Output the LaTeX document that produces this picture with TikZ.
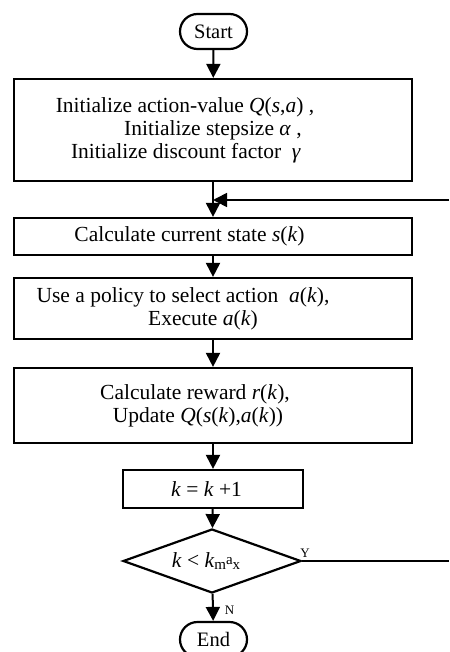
\documentclass[tikz,border=0pt]{standalone}
\usepackage{fontspec}
\setmainfont{Liberation Serif}
\usetikzlibrary{arrows.meta,shapes.geometric}
\newcommand{\iv}[1]{\textit{#1}}
\tikzset{
  box/.style={draw, line width=2.2pt, minimum width=398pt, inner sep=0pt,
    align=center, font=\fontsize{21.5}{23}\selectfont},
  term/.style={draw, line width=2.2pt, rounded corners=17.5pt,
    minimum width=67pt, minimum height=35pt, inner sep=0pt,
    font=\fontsize{20.5}{22}\selectfont},
  decision/.style={draw, diamond, aspect=2.8, line width=2.2pt,
    minimum width=178pt, minimum height=64pt, inner sep=0pt,
    font=\fontsize{21.5}{23}\selectfont},
  flow/.style={line width=2pt, -{Triangle[length=14pt,width=14pt]}},
  loopline/.style={line width=1.6pt},
  tag/.style={font=\fontsize{13}{13}\selectfont, inner sep=0pt}
}
\begin{document}
\begin{tikzpicture}[x=1pt,y=-1pt]
  \useasboundingbox (0,0) rectangle (449,652);

  % terminals, process boxes and the loop test
  \node[term] (start) at (213.5,31.5) {Start};
  \node[box, minimum height=102pt] (init) at (213,130)
    {Initialize action-value \iv{Q}(\iv{s},\iv{a}) ,\hspace*{56pt}\\
     Initialize stepsize \iv{α} ,\hspace*{40pt}\\
     Initialize discount factor \ \iv{γ}\hspace*{54pt}};
  \node[box, minimum height=37pt] (state) at (213,236.5)
    {Calculate current state \iv{s}(\iv{k})\hspace*{47pt}};
  \node[box, minimum height=61pt] (policy) at (213,308.5)
    {Use a policy to select action \ \iv{a}(\iv{k}),\hspace*{60pt}\\
     Execute \iv{a}(\iv{k})\hspace*{20pt}};
  \node[box, minimum height=75pt] (update) at (213,405.5)
    {Calculate reward \iv{r}(\iv{k}),\hspace*{36pt}\\
     Update \iv{Q}(\iv{s}(\iv{k}),\iv{a}(\iv{k}))\hspace*{30pt}};
  \node[box, minimum width=180pt, minimum height=38pt] (inc) at (213,489)
    {\iv{k} = \iv{k} +1\hspace*{13pt}};
  \node[decision] (cond) at (212,561)
    {\iv{k} < \iv{k}\raisebox{-2pt}{\fontsize{15}{15}\selectfont m\raisebox{5pt}{a}x}\hspace*{12pt}};
  \node[term] (end) at (213.5,639.5) {End};

  % loop-back path
  \coordinate (j) at (213,200);
  \coordinate (backin) at (449,200);
  \coordinate (yout) at (449,561);

  % connectors
  \draw[flow] (start) -- (init);
  \draw[flow] (init) -- (state);
  \draw[flow] (state) -- (policy);
  \draw[flow] (policy) -- (update);
  \draw[flow] (update) -- (inc);
  \draw[flow] (inc) -- (cond);
  \draw[flow] (cond) -- (end);
  \draw[loopline] (cond.east) -- (yout);
  \draw[loopline, -{Triangle[length=14pt,width=14pt]}] (backin) -- (j);

  % branch labels
  \node[tag] (ylab) at (305,553.5) {Y};
  \node[tag] (nlab) at (229.5,610.5) {N};
\end{tikzpicture}
\end{document}
